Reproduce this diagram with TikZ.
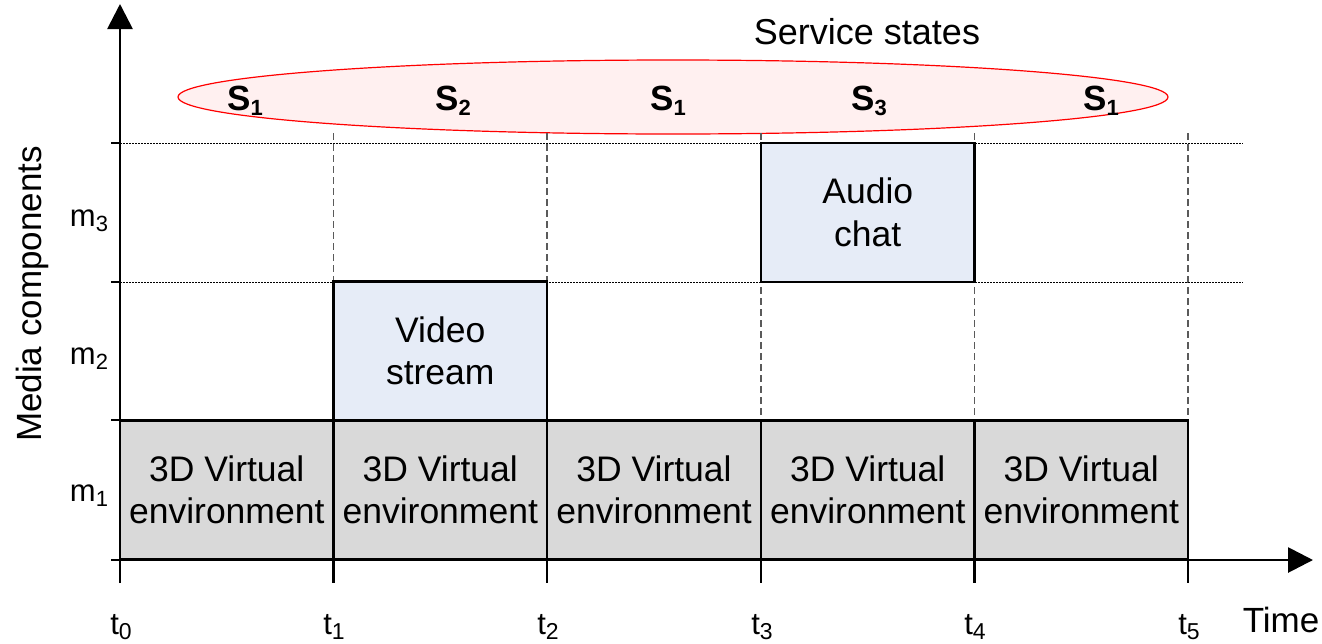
\documentclass[tikz,border=0pt]{standalone}
\usepackage{fontspec}
\setmainfont{Liberation Sans}
\usetikzlibrary{arrows.meta,shapes.geometric}
\definecolor{boxgray}{RGB}{217,217,217}
\definecolor{boxblue}{RGB}{230,236,247}
\definecolor{ellfill}{RGB}{255,240,240}
\definecolor{dashgray}{RGB}{90,90,90}
\newcommand\bigtxt{\fontsize{35.5}{42.5}\selectfont}
\newcommand\tlab[1]{\fontsize{31}{31}\selectfont t\raisebox{-5pt}{\fontsize{23}{23}\selectfont #1}}
\newcommand\mlab[1]{\fontsize{31}{31}\selectfont m\raisebox{-5pt}{\fontsize{22}{22}\selectfont #1}}
\newcommand\slab[1]{\fontsize{35}{35}\selectfont\bfseries S\raisebox{-5pt}{\fontsize{22}{22}\selectfont #1}}
\begin{document}
\begin{tikzpicture}[x=1pt,y=-1pt,
  gbox/.style={draw=black,line width=2.2pt,fill=boxgray,minimum width=213.5pt,minimum height=139pt,inner sep=0pt,align=center,font=\bigtxt},
  bbox/.style={draw=black,line width=2.2pt,fill=boxblue,minimum width=213.5pt,minimum height=139pt,inner sep=0pt,align=center,font=\bigtxt},
  axis/.style={line width=2.8pt,-{Triangle[length=25pt,width=25pt]}},
  tick/.style={line width=2.4pt},
  vdash/.style={dashgray,line width=1.1pt,dash pattern=on 7pt off 4pt},
  hdot/.style={black,line width=1pt,dash pattern=on 1.5pt off 1.5pt},
  lbl/.style={inner sep=0pt,anchor=base}]
\useasboundingbox (0,0) rectangle (1322,643);
% coordinates
\foreach \i/\x in {0/120,1/333.5,2/547,3/761,4/974.5,5/1188}{
  \coordinate (top\i) at (\x,133);
  \coordinate (base\i) at (\x,560);
  \coordinate (tk\i) at (\x,583);
}
\coordinate (l3) at (111,143); \coordinate (r3) at (1243,143);
\coordinate (l2) at (111,282); \coordinate (r2) at (1243,282);
\coordinate (l1) at (111,420); \coordinate (l0) at (111,560);
\coordinate (yend) at (120,4);
\coordinate (xend) at (1313,560);
% ellipse of service states
\node[ellipse,draw=red,line width=1.2pt,fill=ellfill,minimum width=990pt,minimum height=74pt,inner sep=0pt] (ell) at (673,97) {};
\node[lbl,font=\fontsize{36}{36}\selectfont] (ss) at (867,44) {Service states};
\node[lbl] (s1a) at (245,110) {\slab{1}};
\node[lbl] (s2) at (453,110) {\slab{2}};
\node[lbl] (s1b) at (668,110) {\slab{1}};
\node[lbl] (s3) at (869,110) {\slab{3}};
\node[lbl] (s1c) at (1101,110) {\slab{1}};
% dashed and dotted guides
\foreach \i in {1,...,5}{ \draw[vdash] (top\i) -- (base\i); }
\draw[hdot] ([xshift=9pt]l3) -- (r3);
\draw[hdot] ([xshift=9pt]l2) -- (r2);
% boxes
\node[gbox] (g1) at (226.75,490) {3D Virtual\\environment};
\node[gbox] (g2) at (440.25,490) {3D Virtual\\environment};
\node[gbox] (g3) at (654,490) {3D Virtual\\environment};
\node[gbox] (g4) at (867.75,490) {3D Virtual\\environment};
\node[gbox] (g5) at (1081.25,490) {3D Virtual\\environment};
\node[bbox] (video) at (440.25,351) {Video\\stream};
\node[bbox] (audio) at (867.75,212.5) {Audio\\chat};
% axes
\draw[axis] (tk0) -- (yend);
\draw[axis] (l0) -- (xend);
\foreach \i in {1,...,5}{ \draw[tick] (base\i) -- (tk\i); }
\draw[tick] (l3) -- ++(9,0);
\draw[tick] (l2) -- ++(9,0);
\draw[tick] (l1) -- ++(9,0);
% labels
\node[lbl] (m3) at (89,226) {\mlab{3}};
\node[lbl] (m2) at (89,364) {\mlab{2}};
\node[lbl] (m1) at (89,501) {\mlab{1}};
\node[lbl,anchor=center,rotate=90,font=\fontsize{35}{35}\selectfont] (mc) at (32,294) {Media components};
\node[lbl] (t0) at (121,634) {\tlab{0}};
\node[lbl] (t1) at (334,634) {\tlab{1}};
\node[lbl] (t2) at (548,634) {\tlab{2}};
\node[lbl] (t3) at (762,634) {\tlab{3}};
\node[lbl] (t4) at (975,634) {\tlab{4}};
\node[lbl] (t5) at (1189,634) {\tlab{5}};
\node[lbl,font=\fontsize{35}{35}\selectfont] (time) at (1281,632) {Time};
\end{tikzpicture}
\end{document}
